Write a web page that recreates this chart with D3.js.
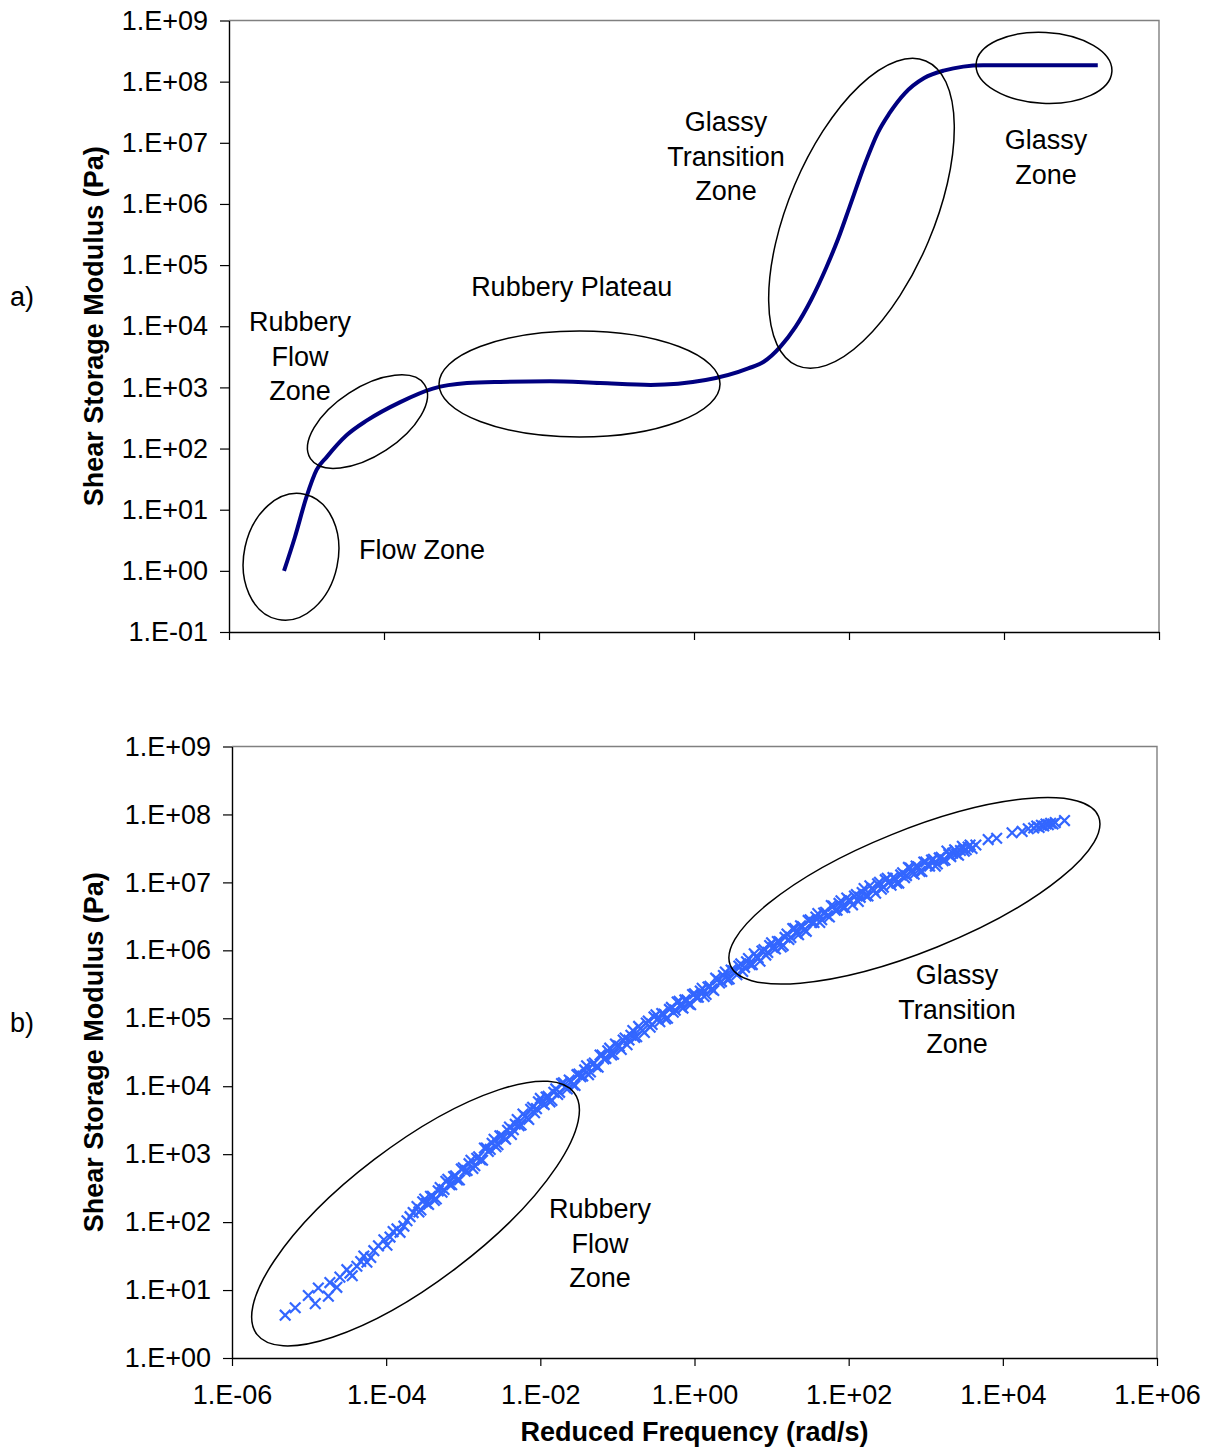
<!DOCTYPE html>
<html>
<head>
<meta charset="utf-8">
<script src="https://cdn.jsdelivr.net/npm/d3@7"></script>
<style>
  html, body { margin: 0; padding: 0; background: #ffffff; }
  svg text { font-family: 'Liberation Sans', Arial, Helvetica, sans-serif; fill: #000; }
</style>
</head>
<body>
<svg id="chart" width="1209" height="1448"></svg>
<script>
// ---- Data -------------------------------------------------------------
// Panel a: idealised master curve, [log10 frequency (rad/s), log10 G' (Pa)]
const masterCurveLog = [
  [-5.29, 0.00], [-5.15, 0.55], [-5.00, 1.21], [-4.87, 1.65], [-4.74, 1.86],
  [-4.48, 2.22], [-4.22, 2.46], [-3.79, 2.76], [-3.37, 2.98], [-2.93, 3.07],
  [-2.50, 3.09], [-1.86, 3.10], [-1.21, 3.07], [-0.56, 3.04], [0.15, 3.12],
  [0.70, 3.31], [0.90, 3.42], [1.11, 3.66], [1.31, 3.99], [1.51, 4.43],
  [1.71, 4.97], [1.86, 5.43], [2.01, 5.96], [2.21, 6.67], [2.37, 7.16],
  [2.52, 7.48], [2.72, 7.81], [2.97, 8.06], [3.22, 8.18], [3.73, 8.27],
  [5.21, 8.27]
];

// Panel b: measured shifted data, [log10 frequency (rad/s), log10 G' (Pa)]
const measuredLowLog = [
  [-5.31, 0.63], [-5.18, 0.74], [-5.01, 0.92], [-4.92, 0.80], [-4.88, 1.03],
  [-4.75, 0.91], [-4.73, 1.11], [-4.64, 1.04], [-4.60, 1.19], [-4.51, 1.30],
  [-4.47, 1.25], [-4.44, 1.21], [-4.38, 1.35], [-4.33, 1.42], [-4.29, 1.50],
  [-4.25, 1.41], [-4.20, 1.48], [-4.16, 1.58], [-4.10, 1.65], [-4.03, 1.74],
  [-3.99, 1.66], [-3.95, 1.78], [-3.91, 1.86], [-3.86, 1.90], [-3.82, 1.85],
  [-3.77, 1.94], [-3.73, 2.02], [-3.69, 2.08], [-3.65, 2.14]
];
const measuredMidLog = [
  [-3.60, 2.23], [-3.55, 2.18], [-3.50, 2.34], [-3.45, 2.26], [-3.40, 2.38], [-3.35, 2.34], [-3.30, 2.51], [-3.25, 2.48], [-3.20, 2.63], [-3.15, 2.55],
  [-3.10, 2.68], [-3.05, 2.62], [-3.00, 2.80], [-2.95, 2.76], [-2.90, 2.91], [-2.85, 2.83], [-2.80, 2.96], [-2.75, 2.91], [-2.70, 3.09], [-2.65, 3.07],
  [-2.60, 3.22], [-2.55, 3.14], [-2.50, 3.27], [-2.45, 3.22], [-2.40, 3.40], [-2.35, 3.36], [-2.30, 3.51], [-2.25, 3.43], [-2.20, 3.56], [-2.15, 3.51],
  [-2.10, 3.69], [-2.05, 3.67], [-2.00, 3.82], [-1.95, 3.73], [-1.90, 3.85], [-1.85, 3.79], [-1.80, 3.96], [-1.75, 3.91], [-1.70, 4.05], [-1.65, 3.96],
  [-1.60, 4.07], [-1.55, 4.01], [-1.50, 4.18], [-1.45, 4.15], [-1.40, 4.30], [-1.35, 4.21], [-1.30, 4.34], [-1.25, 4.28], [-1.20, 4.46], [-1.15, 4.41],
  [-1.10, 4.56], [-1.05, 4.47], [-1.00, 4.60], [-0.95, 4.54], [-0.90, 4.71], [-0.85, 4.68], [-0.80, 4.82], [-0.75, 4.73], [-0.70, 4.85], [-0.65, 4.79],
  [-0.60, 4.96], [-0.55, 4.91], [-0.50, 5.05], [-0.45, 4.95], [-0.40, 5.06], [-0.35, 5.00], [-0.30, 5.16], [-0.25, 5.12], [-0.20, 5.25], [-0.15, 5.15],
  [-0.10, 5.27], [-0.05, 5.20], [0.00, 5.36], [0.05, 5.31], [0.10, 5.44], [0.15, 5.35], [0.20, 5.47], [0.25, 5.41], [0.30, 5.57], [0.35, 5.54],
  [0.40, 5.68], [0.45, 5.58], [0.50, 5.70], [0.55, 5.64], [0.60, 5.80], [0.65, 5.75], [0.70, 5.88], [0.75, 5.79], [0.80, 5.91], [0.85, 5.84],
  [0.90, 6.01], [0.95, 5.97], [1.00, 6.11], [1.05, 6.02], [1.10, 6.13], [1.15, 6.07], [1.20, 6.24], [1.25, 6.19], [1.30, 6.32], [1.35, 6.23],
  [1.40, 6.35], [1.45, 6.28], [1.50, 6.45], [1.55, 6.41], [1.60, 6.54], [1.65, 6.45], [1.70, 6.56], [1.75, 6.49], [1.80, 6.65], [1.85, 6.59],
  [1.90, 6.73], [1.95, 6.63], [2.00, 6.74], [2.05, 6.67], [2.10, 6.82], [2.15, 6.78], [2.20, 6.91], [2.25, 6.80], [2.30, 6.91], [2.35, 6.84],
  [2.40, 7.00], [2.45, 6.93], [2.50, 7.06], [2.55, 6.96], [2.60, 7.06], [2.65, 6.99], [2.70, 7.14], [2.75, 7.10], [2.80, 7.21], [2.85, 7.12],
  [2.90, 7.23], [2.95, 7.16], [3.00, 7.30], [3.05, 7.24], [3.10, 7.34], [3.15, 7.27], [3.20, 7.37], [3.25, 7.33], [3.30, 7.41], [3.35, 7.43],
  [3.40, 7.42], [3.45, 7.47], [3.50, 7.46], [3.55, 7.52], [3.60, 7.50], [3.65, 7.55]
];
// second series of runs, interleaved with the first
const measuredMid2Log = [
  [-3.575, 2.15], [-3.525, 2.30], [-3.475, 2.28], [-3.425, 2.38], [-3.375, 2.32], [-3.325, 2.46], [-3.275, 2.44], [-3.225, 2.60], [-3.175, 2.55], [-3.125, 2.67],
  [-3.075, 2.62], [-3.025, 2.78], [-2.975, 2.75], [-2.925, 2.86], [-2.875, 2.79], [-2.825, 2.94], [-2.775, 2.92], [-2.725, 3.09], [-2.675, 3.04], [-2.625, 3.16],
  [-2.575, 3.11], [-2.525, 3.27], [-2.475, 3.25], [-2.425, 3.35], [-2.375, 3.29], [-2.325, 3.44], [-2.275, 3.42], [-2.225, 3.59], [-2.175, 3.54], [-2.125, 3.66],
  [-2.075, 3.61], [-2.025, 3.77], [-1.975, 3.75], [-1.925, 3.84], [-1.875, 3.77], [-1.825, 3.91], [-1.775, 3.88], [-1.725, 4.04], [-1.675, 3.98], [-1.625, 4.09],
  [-1.575, 4.02], [-1.525, 4.17], [-1.475, 4.14], [-1.425, 4.24], [-1.375, 4.17], [-1.325, 4.32], [-1.275, 4.29], [-1.225, 4.46], [-1.175, 4.40], [-1.125, 4.52],
  [-1.075, 4.46], [-1.025, 4.62], [-0.975, 4.59], [-0.925, 4.68], [-0.875, 4.61], [-0.825, 4.75], [-0.775, 4.72], [-0.725, 4.88], [-0.675, 4.82], [-0.625, 4.93],
  [-0.575, 4.87], [-0.525, 5.02], [-0.475, 4.99], [-0.425, 5.07], [-0.375, 4.99], [-0.325, 5.13], [-0.275, 5.09], [-0.225, 5.24], [-0.175, 5.17], [-0.125, 5.27],
  [-0.075, 5.21], [-0.025, 5.35], [0.025, 5.31], [0.075, 5.40], [0.125, 5.32], [0.175, 5.46], [0.225, 5.43], [0.275, 5.59], [0.325, 5.52], [0.375, 5.63],
  [0.425, 5.57], [0.475, 5.71], [0.525, 5.68], [0.575, 5.77], [0.625, 5.69], [0.675, 5.83], [0.725, 5.79], [0.775, 5.95], [0.825, 5.89], [0.875, 5.99],
  [0.925, 5.93], [0.975, 6.07], [1.025, 6.04], [1.075, 6.13], [1.125, 6.05], [1.175, 6.19], [1.225, 6.16], [1.275, 6.32], [1.325, 6.25], [1.375, 6.36],
  [1.425, 6.30], [1.475, 6.44], [1.525, 6.41], [1.575, 6.49], [1.625, 6.41], [1.675, 6.55], [1.725, 6.51], [1.775, 6.66], [1.825, 6.59], [1.875, 6.69],
  [1.925, 6.63], [1.975, 6.77], [2.025, 6.73], [2.075, 6.80], [2.125, 6.72], [2.175, 6.85], [2.225, 6.80], [2.275, 6.95], [2.325, 6.88], [2.375, 6.98],
  [2.425, 6.90], [2.475, 7.04], [2.525, 7.00], [2.575, 7.07], [2.625, 6.99], [2.675, 7.11], [2.725, 7.07], [2.775, 7.22], [2.825, 7.14], [2.875, 7.24],
  [2.925, 7.16], [2.975, 7.30], [3.025, 7.25], [3.075, 7.33], [3.125, 7.24], [3.175, 7.36], [3.225, 7.32], [3.275, 7.46], [3.325, 7.38], [3.375, 7.48],
  [3.425, 7.40], [3.475, 7.53], [3.525, 7.48], [3.575, 7.55]
];
const measuredHighLog = [
  [3.81, 7.63], [3.92, 7.65], [4.12, 7.73], [4.25, 7.75], [4.33, 7.79],
  [4.40, 7.80], [4.44, 7.83], [4.47, 7.81], [4.50, 7.84], [4.53, 7.83],
  [4.56, 7.86], [4.59, 7.85], [4.62, 7.87], [4.65, 7.86], [4.68, 7.88],
  [4.80, 7.91]
];

// Axis ticks (decade exponents) and their labels
const xTickExp = [-6, -4, -2, 0, 2, 4, 6];
const xTickLabels = ["1.E-06", "1.E-04", "1.E-02", "1.E+00", "1.E+02", "1.E+04", "1.E+06"];
const yTickExpA = [-1, 0, 1, 2, 3, 4, 5, 6, 7, 8, 9];
const yTickLabelsA = ["1.E-01", "1.E+00", "1.E+01", "1.E+02", "1.E+03", "1.E+04", "1.E+05", "1.E+06", "1.E+07", "1.E+08", "1.E+09"];
const yTickExpB = [0, 1, 2, 3, 4, 5, 6, 7, 8, 9];
const yTickLabelsB = ["1.E+00", "1.E+01", "1.E+02", "1.E+03", "1.E+04", "1.E+05", "1.E+06", "1.E+07", "1.E+08", "1.E+09"];

// Zone annotations: label lines anchored at a (log f, log G) point
const zoneLabelsA = [
  { lines: ["Rubbery Plateau"], at: [-1.578, 4.642] },
  { lines: ["Rubbery", "Flow", "Zone"], at: [-5.084, 4.07] },
  { lines: ["Flow Zone"], at: [-3.51, 0.341] },
  { lines: ["Glassy", "Transition", "Zone"], at: [0.413, 7.34] },
  { lines: ["Glassy", "Zone"], at: [4.542, 7.046] }
];
const zoneLabelsB = [
  { lines: ["Glassy", "Transition", "Zone"], at: [3.406, 5.637] },
  { lines: ["Rubbery", "Flow", "Zone"], at: [-1.226, 2.193] }
];
// Zone outlines: centre in (log f, log G)
const zoneRingsA = [
  { at: [-5.20, 0.23], rx: 47, ry: 64, angle: 12 },
  { at: [-4.213, 2.44], rx: 68, ry: 34, angle: -33 },
  { at: [-1.477, 3.056], rx: 140.5, ry: 53, angle: 0 },
  { at: [2.161, 5.847], rx: 72.6, ry: 165.4, angle: 22.9 },
  { at: [4.516, 8.226], rx: 68, ry: 35.5, angle: 3 }
];
const zoneRingsB = [
  { at: [-3.619, 2.126], rx: 199.4, ry: 68, angle: -37.3 },
  { at: [2.853, 6.876], rx: 198.6, ry: 60.6, angle: -22 }
];

// ---- Layout ----------------------------------------------------------
const svg = d3.select("#chart");
const FS = 27;            // base font size
const LINE_H = 34.3;      // line spacing of multi-line labels
const pow10 = e => Math.pow(10, e);

const panelA = { left: 229, right: 1159, top: 20.5, bottom: 632, yMin: -1, yMax: 9 };
const panelB = { left: 232, right: 1157, top: 746.5, bottom: 1358, yMin: 0, yMax: 9 };

function makeScales(p) {
  const x = d3.scaleLog().domain([1e-6, 1e6]).range([p.left, p.right]);
  const y = d3.scaleLog().domain([pow10(p.yMin), pow10(p.yMax)]).range([p.bottom, p.top]);
  return { x, y };
}

function drawFrame(p, s, yExp, yLabels, showXLabels) {
  const g = svg.append("g");
  // grey top and right border of the plot area
  g.append("path")
    .attr("d", `M${p.left},${p.top}H${p.right}V${p.bottom}`)
    .attr("fill", "none").attr("stroke", "#808080").attr("stroke-width", 1.4);

  const yAxis = d3.axisLeft(s.y)
    .tickValues(yExp.map(pow10))
    .tickFormat((d, i) => yLabels[i])
    .tickSize(9).tickSizeOuter(0).tickPadding(12);
  const ya = g.append("g").attr("transform", `translate(${p.left},0)`).call(yAxis);

  const xAxis = d3.axisBottom(s.x)
    .tickValues(xTickExp.map(pow10))
    .tickFormat((d, i) => showXLabels ? xTickLabels[i] : "")
    .tickSize(8).tickSizeOuter(0).tickPadding(19);
  const xa = g.append("g").attr("transform", `translate(0,${p.bottom})`).call(xAxis);

  [ya, xa].forEach(a => {
    a.select(".domain").attr("stroke", "#000").attr("stroke-width", 1.4);
    a.selectAll(".tick line").attr("stroke", "#000").attr("stroke-width", 1.2);
    a.selectAll(".tick text")
      .attr("font-size", FS)
      .attr("font-family", "'Liberation Sans', Arial, sans-serif")
      .attr("fill", "#000");
  });
  return g;
}

function drawZones(s, rings, labels) {
  const g = svg.append("g");
  rings.forEach(r => {
    g.append("ellipse")
      .attr("transform", `translate(${s.x(pow10(r.at[0]))},${s.y(pow10(r.at[1]))}) rotate(${r.angle})`)
      .attr("rx", r.rx).attr("ry", r.ry)
      .attr("fill", "none").attr("stroke", "#000").attr("stroke-width", 1.5);
  });
  labels.forEach(l => {
    const cx = s.x(pow10(l.at[0]));
    const cy = s.y(pow10(l.at[1]));
    const t = g.append("text")
      .attr("text-anchor", "middle")
      .attr("font-size", FS);
    l.lines.forEach((line, i) => {
      t.append("tspan").attr("x", cx).attr("y", cy + i * LINE_H).attr("dy", "0.35em").text(line);
    });
  });
}

function yTitle(p, label) {
  svg.append("text")
    .attr("transform", `translate(103,${(p.top + p.bottom) / 2}) rotate(-90)`)
    .attr("text-anchor", "middle")
    .attr("font-size", FS).attr("font-weight", "bold")
    .text("Shear Storage Modulus (Pa)");
  svg.append("text")
    .attr("x", 22).attr("y", (p.top + p.bottom) / 2 - 30)
    .attr("dy", "0.35em")
    .attr("text-anchor", "middle")
    .attr("font-size", FS)
    .text(label);
}

// ---- Panel a: master curve -------------------------------------------
const sA = makeScales(panelA);
drawFrame(panelA, sA, yTickExpA, yTickLabelsA, false);
svg.append("path")
  .datum(masterCurveLog)
  .attr("d", d3.line()
    .x(d => sA.x(pow10(d[0])))
    .y(d => sA.y(pow10(d[1])))
    .curve(d3.curveMonotoneX))
  .attr("fill", "none").attr("stroke", "#000080").attr("stroke-width", 4)
  .attr("stroke-linejoin", "round");
drawZones(sA, zoneRingsA, zoneLabelsA);
yTitle(panelA, "a)");

// ---- Panel b: measured data ------------------------------------------
const sB = makeScales(panelB);
drawFrame(panelB, sB, yTickExpB, yTickLabelsB, true);
const measured = measuredLowLog.concat(measuredMidLog, measuredMid2Log, measuredHighLog);
svg.append("g").selectAll("path")
  .data(measured)
  .join("path")
  .attr("transform", d => `translate(${sB.x(pow10(d[0]))},${sB.y(pow10(d[1]))})`)
  .attr("d", "M-5.3,-5.3L5.3,5.3M-5.3,5.3L5.3,-5.3")
  .attr("fill", "none").attr("stroke", "#3366FF").attr("stroke-width", 2.2);
drawZones(sB, zoneRingsB, zoneLabelsB);
yTitle(panelB, "b)");

svg.append("text")
  .attr("x", (panelB.left + panelB.right) / 2).attr("y", 1441)
  .attr("text-anchor", "middle")
  .attr("font-size", FS).attr("font-weight", "bold")
  .text("Reduced Frequency (rad/s)");
</script>
</body>
</html>
